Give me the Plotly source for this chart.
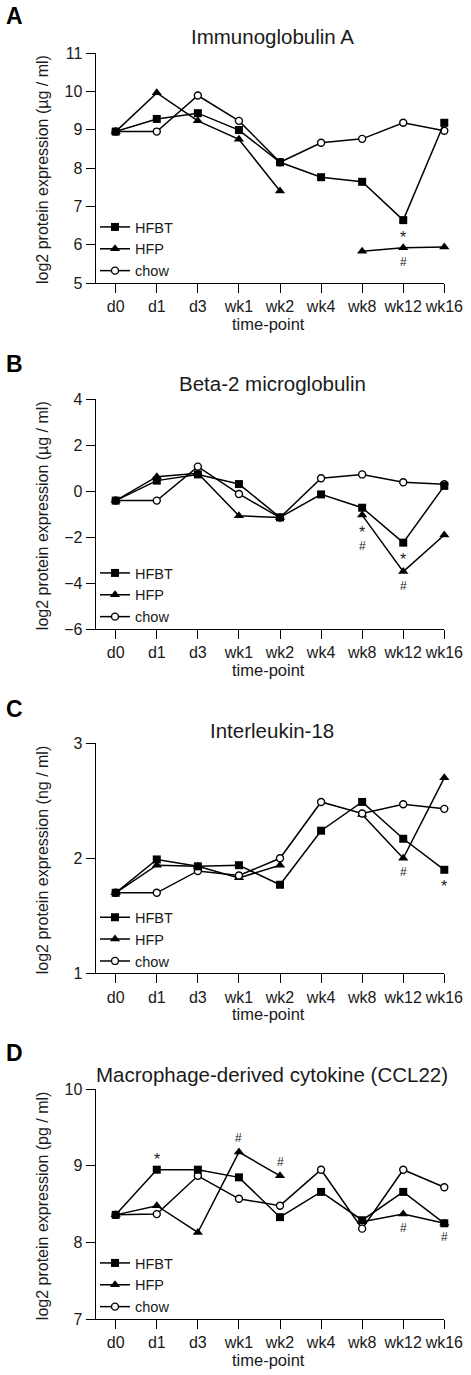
import plotly.graph_objects as go

# ---------------- data ----------------
categories = ["d0", "d1", "d3", "wk1", "wk2", "wk4", "wk8", "wk12", "wk16"]
series_names = ["HFBT", "HFP", "chow"]

A_hfbt = [8.95, 9.28, 9.43, 8.99, 8.15, 7.76, 7.64, 6.64, 9.18]
A_hfp = [8.95, 9.96, 9.23, 8.75, 7.40, None, 5.83, 5.92, 5.94]
A_chow = [8.95, 8.95, 9.89, 9.23, 8.15, 8.66, 8.76, 9.18, 8.97]

B_hfbt = [-0.41, 0.46, 0.73, 0.31, -1.14, -0.14, -0.72, -2.24, 0.23]
B_hfp = [-0.41, 0.63, 0.78, -1.07, -1.15, None, -1.04, -3.50, -1.91]
B_chow = [-0.41, -0.41, 1.07, -0.12, -1.15, 0.56, 0.73, 0.39, 0.30]

C_hfbt = [1.70, 1.99, 1.93, 1.94, 1.77, 2.24, 2.49, 2.17, 1.90]
C_hfp = [1.70, 1.94, 1.93, 1.83, 1.94, None, 2.38, 2.00, 2.70]
C_chow = [1.70, 1.70, 1.89, 1.85, 2.00, 2.49, 2.39, 2.47, 2.43]

D_hfbt = [8.36, 8.95, 8.95, 8.85, 8.33, 8.66, 8.29, 8.66, 8.25]
D_hfp = [8.36, 8.48, 8.13, 9.18, 8.87, None, 8.27, 8.37, 8.25]
D_chow = [8.36, 8.37, 8.87, 8.57, 8.48, 8.95, 8.18, 8.95, 8.72]

panel_letters = ["A", "B", "C", "D"]
panel_titles = ["Immunoglobulin A", "Beta-2 microglobulin", "Interleukin-18",
                "Macrophage-derived cytokine (CCL22)"]
panel_units = ["µg / ml", "µg / ml", "ng / ml", "pg / ml"]
panel_yranges = [[5, 11], [-6, 4], [1, 3], [7, 10]]
panel_dticks = [1, 2, 1, 1]
panel_data = [
    {"HFBT": A_hfbt, "HFP": A_hfp, "chow": A_chow},
    {"HFBT": B_hfbt, "HFP": B_hfp, "chow": B_chow},
    {"HFBT": C_hfbt, "HFP": C_hfp, "chow": C_chow},
    {"HFBT": D_hfbt, "HFP": D_hfp, "chow": D_chow},
]
# significance marks: (panel, category, series anchored to, symbol, side)
sig_marks = [
    (0, "wk12", "HFBT", "*", "below"), (0, "wk12", "HFP", "#", "below"),
    (1, "wk8", "HFP", "*", "below"), (1, "wk8", "HFP", "#", "below2"),
    (1, "wk12", "HFBT", "*", "below"), (1, "wk12", "HFP", "#", "below"),
    (2, "wk12", "HFP", "#", "below"), (2, "wk16", "HFBT", "*", "below"),
    (3, "d1", "HFBT", "*", "above"), (3, "wk1", "HFP", "#", "above"),
    (3, "wk2", "HFP", "#", "above"), (3, "wk12", "HFP", "#", "below"),
    (3, "wk16", "HFP", "#", "below"),
]

# ---------------- layout geometry (pixels) ----------------
W, H = 471, 1375
FONT = "Liberation Sans, Arial, sans-serif"
TXT = "#1a1a1a"
x_left, x_right = 95.7, 444.3
x_first = 115.7
panel_px = [(53, 283), (399.3, 629), (743.3, 973.3), (1089.3, 1319)]  # (top, bottom)
title_y = [36, 383.3, 730.7, 1074.3]
letter_y = [16, 364, 709, 1053]

def px(x):
    return x / W

def py(y):
    return 1 - y / H

styles = {
    "HFBT": dict(symbol="square", size=8, color="black", line=dict(width=0, color="black")),
    "HFP": dict(symbol="triangle-up", size=9, color="black", line=dict(width=0, color="black")),
    "chow": dict(symbol="circle", size=7, color="white", line=dict(width=1.4, color="black")),
}
rank = {"HFBT": 1, "HFP": 2, "chow": 3}
draw_order = ["HFP", "chow", "HFBT"]

fig = go.Figure()
annotations = []
layout = dict(
    template="none", autosize=False,
    width=W, height=H, margin=dict(l=0, r=0, t=0, b=0, pad=0),
    paper_bgcolor="white", plot_bgcolor="white",
    font=dict(family=FONT, color=TXT, size=16),
)

unit_px = (x_right - x_first) / (len(categories) - 1)
x_range = [-(x_first - x_left) / unit_px, len(categories) - 1]


def paper_text(text, x, y, size, angle=0, color=TXT):
    return dict(text=text, x=px(x), y=py(y), xref="paper", yref="paper",
                xanchor="center", yanchor="middle", showarrow=False, textangle=angle,
                font=dict(size=size, color=color))


for i in range(4):
    sfx = "" if i == 0 else str(i + 1)
    top, bot = panel_px[i]
    legend_name = "legend" if i == 0 else f"legend{i + 1}"
    for name in draw_order:
        st = styles[name]
        fig.add_trace(go.Scatter(
            x=categories, y=panel_data[i][name], name=name, mode="lines+markers",
            line=dict(color="black", width=1.5),
            marker=dict(symbol=st["symbol"], size=st["size"], color=st["color"], line=st["line"]),
            xaxis="x" + sfx, yaxis="y" + sfx, legend=legend_name, legendrank=rank[name],
            cliponaxis=False, connectgaps=False, showlegend=True,
        ))
    layout["xaxis" + sfx] = dict(
        domain=[px(x_left), px(x_right)], anchor="y" + sfx, type="category",
        range=x_range, showline=True, linecolor="black", linewidth=1.2,
        ticks="outside", ticklen=9, tickcolor="black", tickwidth=1.2, tickangle=0,
        showgrid=False, zeroline=False, tickfont=dict(size=16, color=TXT),
        categoryorder="array", categoryarray=categories, automargin=False,
    )
    yr = panel_yranges[i]
    layout["yaxis" + sfx] = dict(
        domain=[py(bot), py(top)], anchor="x" + sfx, range=yr,
        tick0=yr[0], dtick=panel_dticks[i],
        showline=True, linecolor="black", linewidth=1.2,
        ticks="outside", ticklen=9, tickcolor="black", tickwidth=1.2,
        showgrid=False, zeroline=False, tickfont=dict(size=16, color=TXT), automargin=False,
    )
    layout[legend_name] = dict(
        x=px(95), y=py(bot + 4), xanchor="left", yanchor="bottom",
        bgcolor="rgba(0,0,0,0)", borderwidth=0, font=dict(size=14.5, color=TXT),
        itemwidth=30, tracegroupgap=0, traceorder="normal",
    )
    annotations.append(paper_text(f"<b>{panel_letters[i]}</b>", 14, letter_y[i], 23, color="black"))
    annotations.append(paper_text(panel_titles[i], (x_left + x_right) / 2 + 2, title_y[i], 20.5))
    annotations.append(paper_text("time-point", 268, bot + 41, 16.5))
    annotations.append(paper_text(f"log2 protein expression ({panel_units[i]})", 42,
                                  (top + bot) / 2 + 2, 16, angle=-90))

for (pi, cat, ser, sym, side) in sig_marks:
    sfx = "" if pi == 0 else str(pi + 1)
    val = panel_data[pi][ser][categories.index(cat)]
    if sym == "*":
        size = 16
        shift = {"below": -17, "above": 10, "below2": -16}[side]
    else:
        size = 12
        shift = {"below": -14, "above": 14, "below2": -31}[side]
    annotations.append(dict(text=sym, x=cat, y=val, xref="x" + sfx, yref="y" + sfx,
                            xanchor="center", yanchor="middle",
                            yshift=shift, showarrow=False, font=dict(size=size, color=TXT)))

layout["annotations"] = annotations
fig.update_layout(**layout)
fig.write_html(
    "out.html",
    config={"displayModeBar": False},
    post_script="document.body.style.margin='0';document.body.style.overflow='hidden';",
)
